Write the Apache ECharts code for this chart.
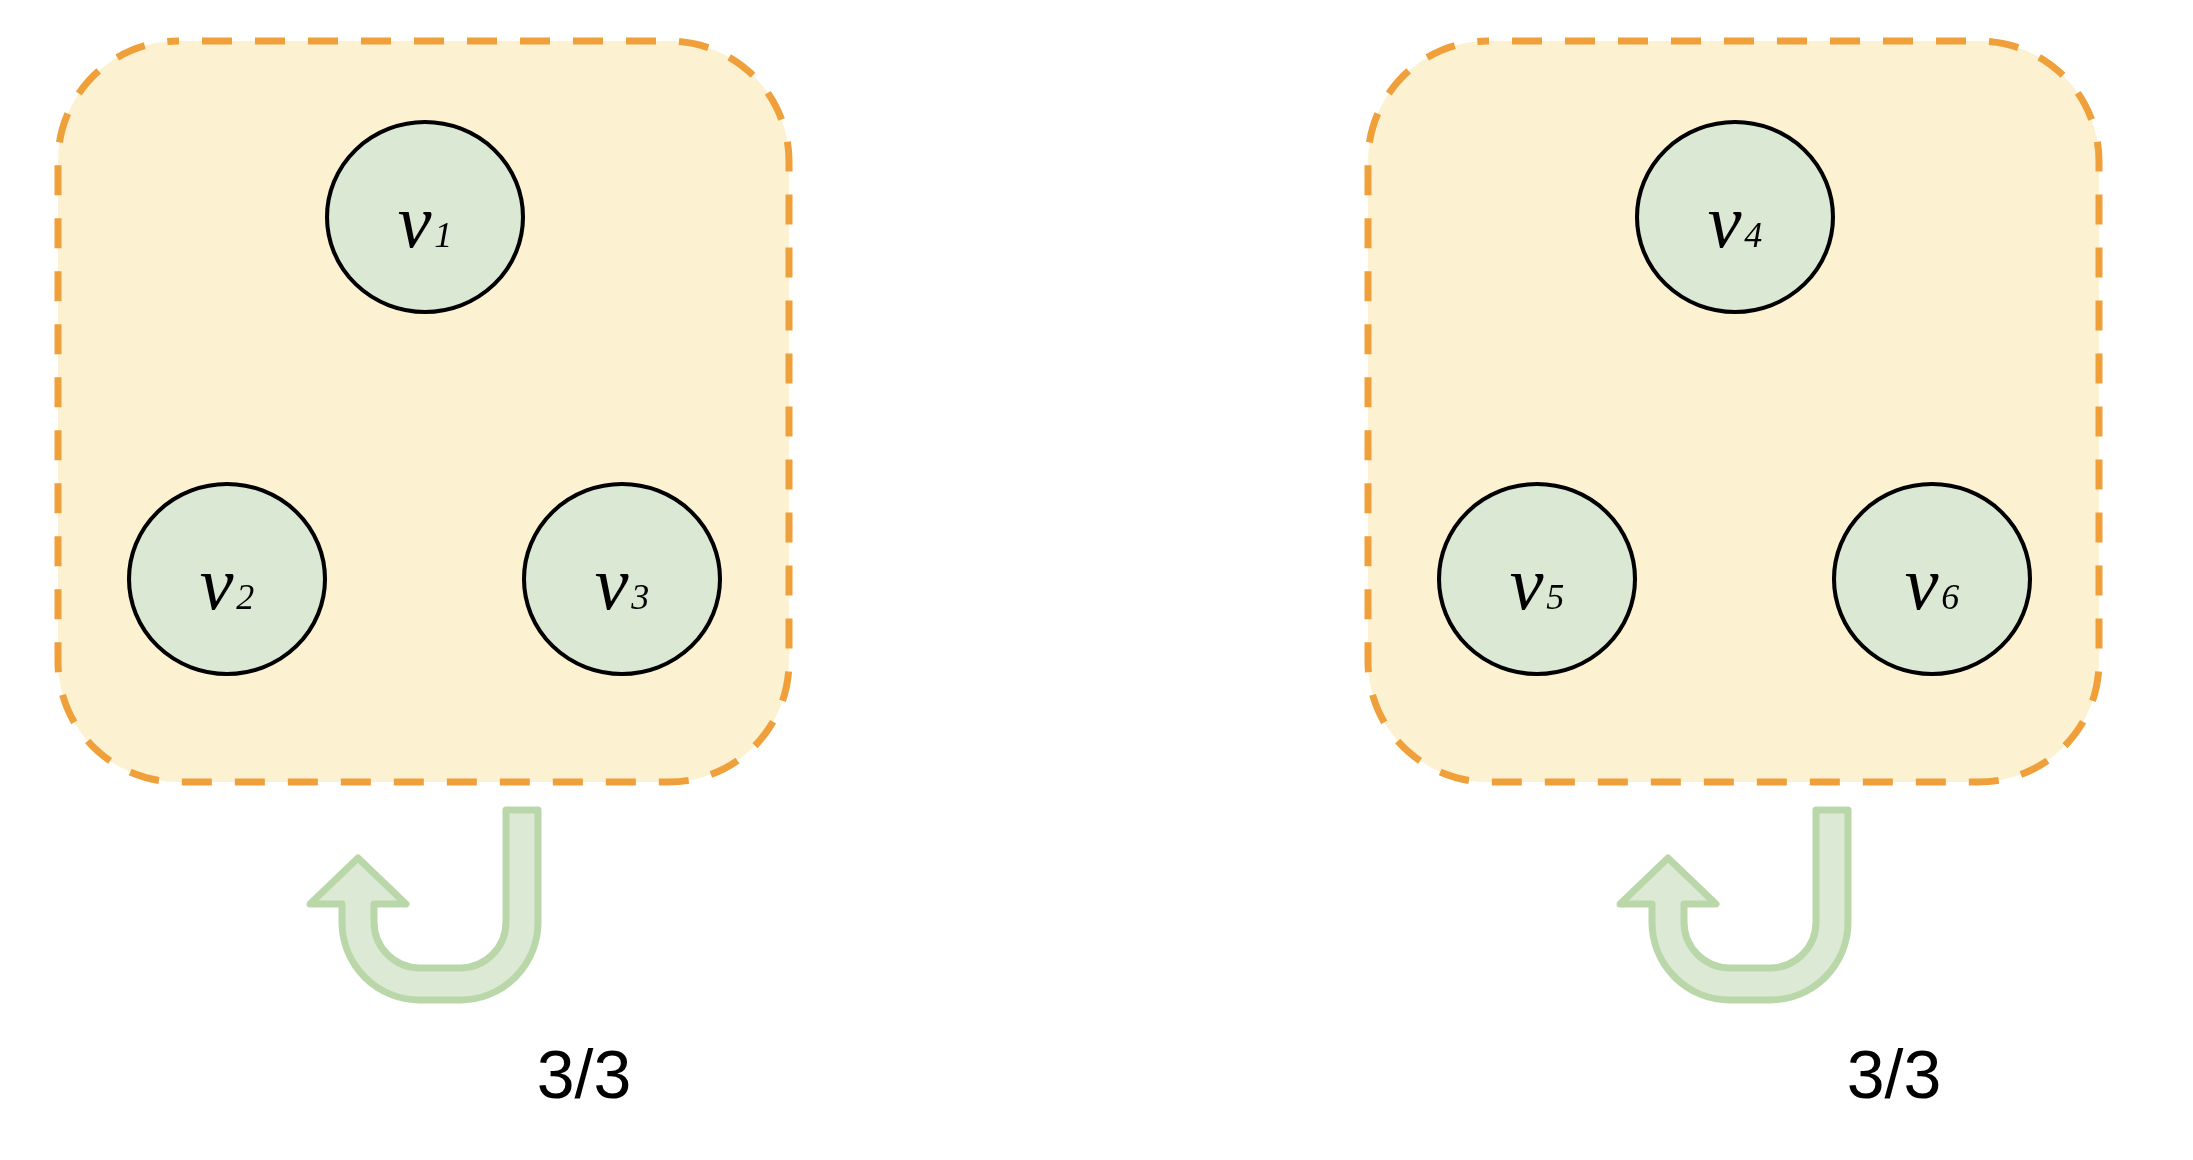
<!DOCTYPE html>
<html lang="en">

<head>
    <meta charset="UTF-8">
    <title>groups v1-v6</title>
    <!-- echarts from cdn -->
    <script src="https://cdn.jsdelivr.net/npm/echarts@6.0.0/dist/echarts.min.js"></script>
    <style>
        body { margin: 0; background: #ffffff; }
    </style>
</head>

<body>
    <div id="main" style="width: 2193px;height:1160px;"></div>

    <script>
        // the picture's own pixel space is used as the axis space
        // boxes: [left, top, right, bottom]
        const boxes = [
            [58, 41, 789, 782],
            [1368, 41, 2099, 782]
        ];

        // nodes
        const nodeIndex = ['1', '2', '3', '4', '5', '6'];
        const nodeX = [425, 227, 622, 1735, 1537, 1932];
        const nodeY = [217, 579, 579, 217, 579, 579];

        // u-turn arrows under each box
        const arrowStemX = [522, 1832];
        const arrowTipX = [358, 1668];
        const arrowTopY = [810, 810];
        const arrowBottomY = [1000, 1000];
        const arrowTipY = [858, 858];
        const arrowBaseY = [904, 904];

        // ratio text
        const ratioText = ['3/3', '3/3'];
        const ratioX = [584, 1894];
        const ratioY = [1079, 1079];

        const myChart = echarts.init(document.getElementById('main'));

        // build data for series
        const nodeData = nodeIndex.map((n, i) => [nodeX[i], nodeY[i], n]);
        const arrowData = arrowStemX.map((s, i) => [s, arrowTopY[i], arrowTipX[i], arrowBottomY[i], arrowTipY[i], arrowBaseY[i]]);
        const ratioData = ratioText.map((t, i) => [ratioX[i], ratioY[i], t]);

        function renderBox(params, api) {
            const p0 = api.coord([api.value(0), api.value(1)]);
            const p1 = api.coord([api.value(2), api.value(3)]);
            const r = api.size([120, 0])[0];
            return {
                type: 'rect',
                shape: { x: p0[0], y: p0[1], width: p1[0] - p0[0], height: p1[1] - p0[1], r: r },
                style: {
                    fill: '#fcf1d0',
                    stroke: '#f0a03a',
                    lineWidth: 7,
                    lineDash: [30, 23],
                    lineDashOffset: 29
                }
            };
        }

        function renderArrow(params, api) {
            const sx = api.value(0), top = api.value(1), tx = api.value(2);
            const yb = api.value(3), tipY = api.value(4), baseY = api.value(5);
            const hw = 16, ro = 78, ri = 46, head = 48;
            const ib = yb - 2 * hw;
            const c = (x, y) => api.coord([x, y]).join(' ');
            const ro_ = api.size([ro, 0])[0], ri_ = api.size([ri, 0])[0];
            const d = [
                'M', c(sx - hw, top),
                'L', c(sx + hw, top),
                'L', c(sx + hw, yb - ro),
                'A', ro_, ro_, 0, 0, 1, c(sx + hw - ro, yb),
                'L', c(tx - hw + ro, yb),
                'A', ro_, ro_, 0, 0, 1, c(tx - hw, yb - ro),
                'L', c(tx - hw, baseY),
                'L', c(tx - head, baseY),
                'L', c(tx, tipY),
                'L', c(tx + head, baseY),
                'L', c(tx + hw, baseY),
                'L', c(tx + hw, ib - ri),
                'A', ri_, ri_, 0, 0, 0, c(tx + hw + ri, ib),
                'L', c(sx - hw - ri, ib),
                'A', ri_, ri_, 0, 0, 0, c(sx - hw, ib - ri),
                'Z'
            ].join(' ');
            return {
                type: 'path',
                shape: { pathData: d },
                style: {
                    fill: '#dce9d5',
                    stroke: '#bad7aa',
                    lineWidth: 7,
                    lineJoin: 'round'
                }
            };
        }

        let option = {
            animation: false,
            grid: { left: 0, right: 0, top: 0, bottom: 0 },
            xAxis: { type: 'value', min: 0, max: 2193, show: false },
            yAxis: { type: 'value', min: 0, max: 1160, inverse: true, show: false },
            series: [
                {
                    type: 'custom',
                    renderItem: renderBox,
                    data: boxes,
                    z: 1,
                    silent: true
                },
                {
                    type: 'custom',
                    renderItem: renderArrow,
                    data: arrowData,
                    z: 1,
                    silent: true
                },
                {
                    type: 'scatter',
                    data: nodeData,
                    symbol: 'circle',
                    symbolSize: [196, 190],
                    z: 3,
                    itemStyle: {
                        color: '#dbe8d4',
                        borderColor: '#000000',
                        borderWidth: 4,
                        opacity: 1
                    },
                    label: {
                        show: true,
                        position: 'inside',
                        offset: [0, 10],
                        formatter: (p) => '{v|v}{s|' + p.data[2] + '}',
                        rich: {
                            v: {
                                fontFamily: 'Liberation Serif',
                                fontStyle: 'italic',
                                fontSize: 76,
                                color: '#000',
                                verticalAlign: 'bottom'
                            },
                            s: {
                                fontFamily: 'Liberation Serif',
                                fontStyle: 'italic',
                                fontSize: 36,
                                color: '#000',
                                verticalAlign: 'bottom',
                                padding: [0, 0, 9, 3]
                            }
                        }
                    },
                    emphasis: { disabled: true }
                },
                {
                    type: 'scatter',
                    data: ratioData,
                    symbolSize: 0,
                    z: 3,
                    itemStyle: { opacity: 1 },
                    label: {
                        show: true,
                        position: 'inside',
                        formatter: (p) => p.data[2],
                        fontFamily: 'Liberation Sans',
                        fontSize: 68,
                        color: '#000000'
                    },
                    emphasis: { disabled: true }
                }
            ]
        };

        myChart.setOption(option);
    </script>
</body>

</html>
